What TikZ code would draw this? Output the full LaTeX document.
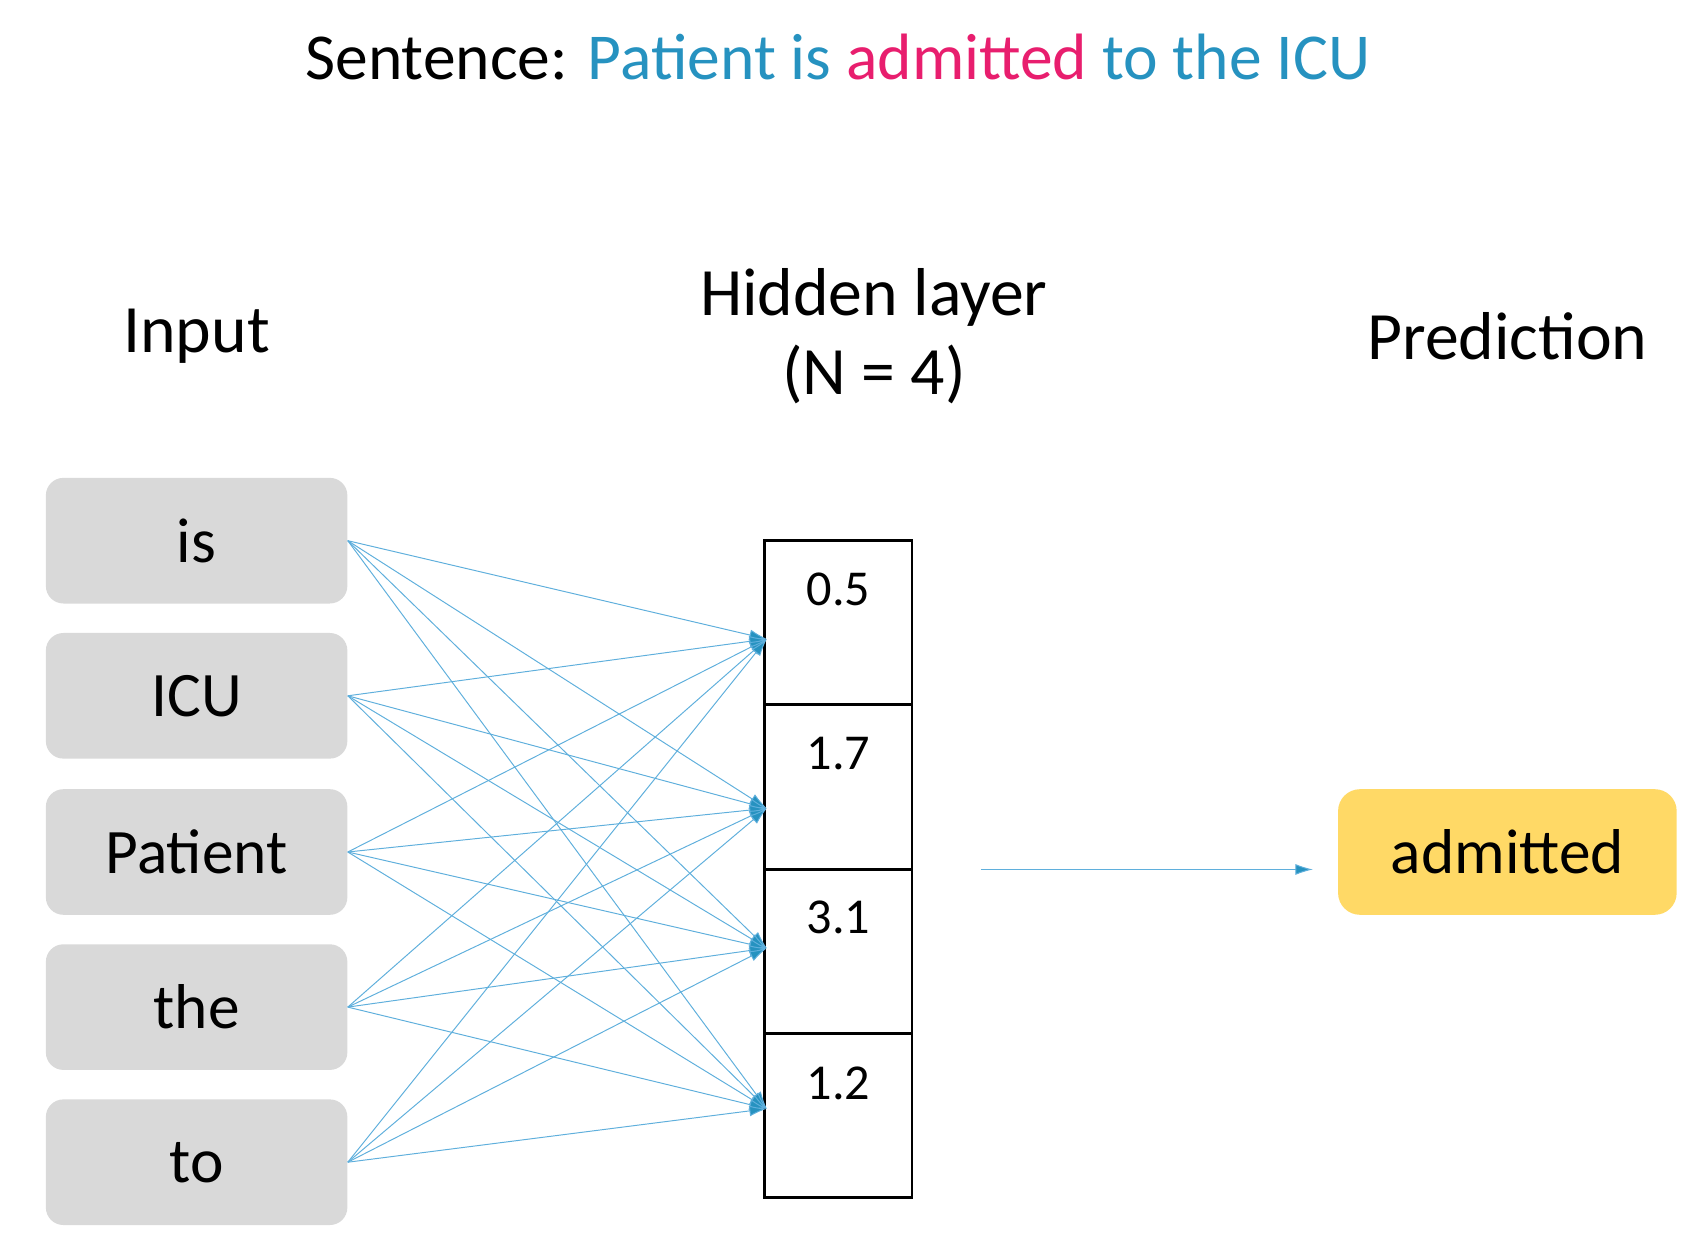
\documentclass[tikz,border=0pt]{standalone}
\usepackage{fontspec}
\setmainfont{Carlito}
\usetikzlibrary{arrows.meta}
\definecolor{tblue}{RGB}{38,146,192}
\definecolor{tpink}{RGB}{232,30,110}
\definecolor{boxgray}{RGB}{217,217,217}
\definecolor{ylw}{RGB}{255,217,102}
\definecolor{lblue}{RGB}{95,175,220}
\begin{document}
\begin{tikzpicture}[x=0.5pt,y=-0.5pt,
  word/.style={fill=boxgray,rounded corners=8pt,minimum width=138pt,minimum height=57.5pt,inner sep=0,font=\fontsize{29}{32}\selectfont},
  cell/.style={draw=black,line width=1.2pt,minimum width=67.5pt,minimum height=75pt,inner sep=0},
  num/.style={font=\fontsize{23}{26}\selectfont},
  lbl/.style={font=\fontsize{31}{36}\selectfont,align=center},
  conn/.style={draw=lblue,line width=0.45pt,-{Latex[length=8pt,width=5pt,fill=tblue]}}]
\useasboundingbox (0,0) rectangle (1560,1139);
\node[font=\fontsize{30}{34}\selectfont] (title) at (767,52) {Sentence: \textcolor{tblue}{Patient is} \textcolor{tpink}{admitted} \textcolor{tblue}{to the ICU}};
\node[lbl] (lin) at (180,308) {Input};
\node[lbl] (lh) at (800,308) {Hidden layer\\(N = 4)};
\node[lbl] (lp) at (1380,308) {Prediction};
\node[word] (w1) at (180,495) {is};
\node[word] (w2) at (180,637) {ICU};
\node[word] (w3) at (180,780) {Patient};
\node[word] (w4) at (180,922) {the};
\node[word] (w5) at (180,1064) {to};
\node[cell] (h1) at (767.5,570) {};
\node[cell] (h2) at (767.5,720.5) {};
\node[cell] (h3) at (767.5,871) {};
\node[cell] (h4) at (767.5,1021.5) {};
\node[num] (n1) at (767.5,540) {0.5};
\node[num] (n2) at (767.5,690) {1.7};
\node[num] (n3) at (767.5,840) {3.1};
\node[num] (n4) at (767.5,992) {1.2};
\coordinate (t1) at (702,585);
\coordinate (t2) at (702,740);
\coordinate (t3) at (702,868);
\coordinate (t4) at (702,1015);
\foreach \i in {1,...,5}{\foreach \j in {1,...,4}{\draw[conn] (w\i.east) -- (t\j);}}
\node[fill=ylw,rounded corners=10pt,minimum width=155pt,minimum height=57.5pt,inner sep=0,font=\fontsize{29}{32}\selectfont] (out) at (1380,780) {admitted};
\coordinate (os) at (898,796);
\coordinate (oe) at (1202,796);
\draw[conn] (os) -- (oe);
\end{tikzpicture}
\end{document}
